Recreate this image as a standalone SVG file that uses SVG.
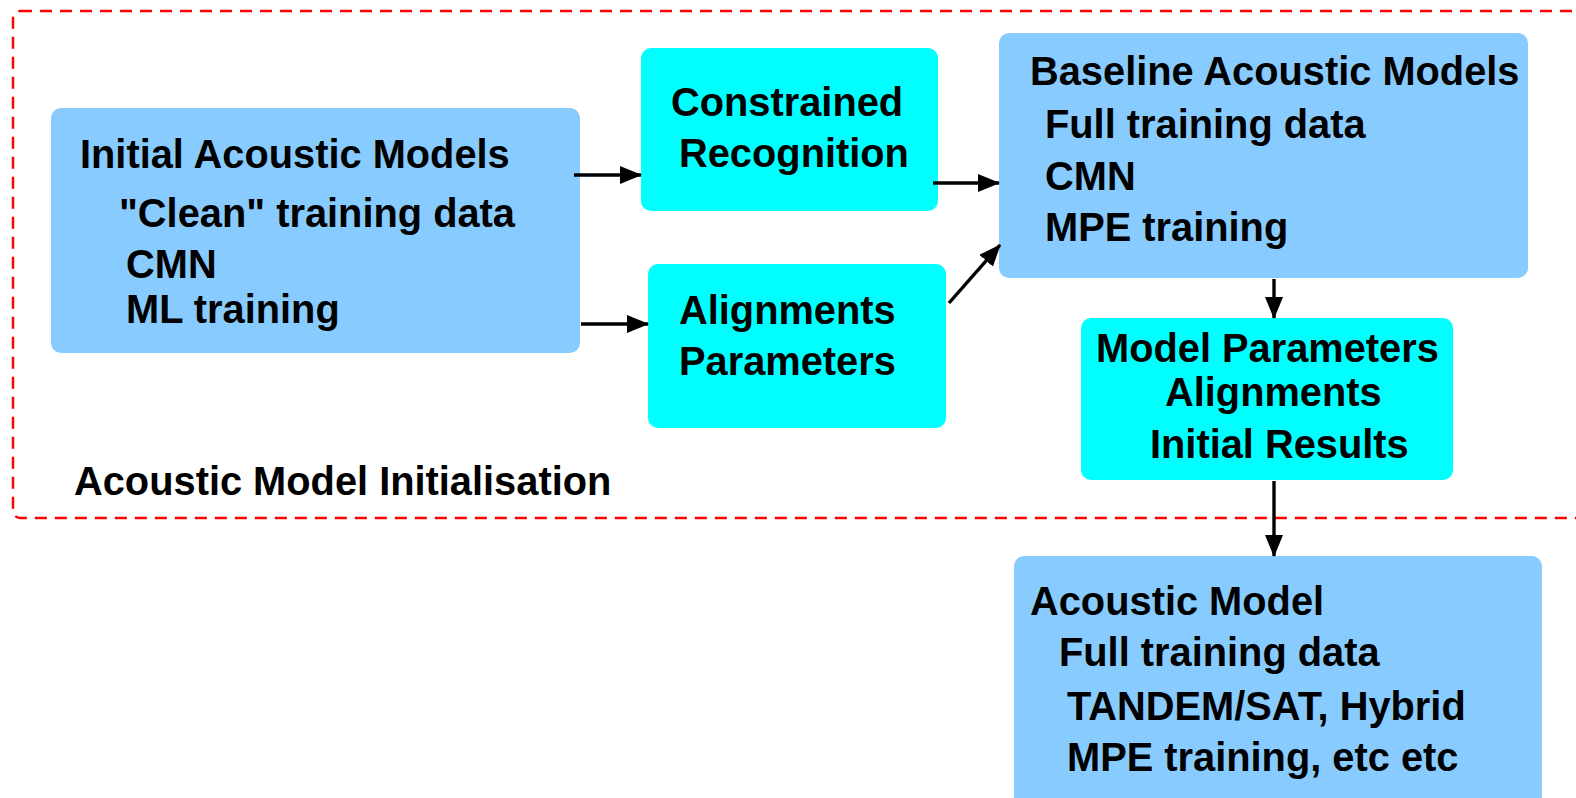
<svg xmlns="http://www.w3.org/2000/svg" width="1576" height="798" viewBox="0 0 1576 798">
<defs>
<style>
.lb{fill:#88CCFF;}
.cy{fill:#00FFFF;}
text{font-family:"Liberation Sans",Arial,sans-serif;font-weight:bold;font-size:39.8px;fill:#000;}
.c{stroke:#000;stroke-width:3.4;fill:none;marker-end:url(#ah);}
</style>
<marker id="ah" viewBox="0 0 22 18" refX="21" refY="9" markerWidth="22" markerHeight="18" markerUnits="userSpaceOnUse" orient="auto">
<path d="M0,0 L22,9 L0,18 z" fill="#000"/>
</marker>
</defs>
<rect width="1576" height="798" fill="#fff"/>
<g id="border">
<rect x="13" y="11" width="1640" height="507" rx="7" fill="none" stroke="#FF0000" stroke-width="2.5" stroke-dasharray="12,8"/>
<text x="74" y="495">Acoustic Model Initialisation</text>
</g>
<g id="initial">
<rect class="lb" x="51" y="108" width="529" height="245" rx="10"/>
<text x="80" y="168">Initial Acoustic Models</text>
<text x="119" y="227">"Clean" training data</text>
<text x="126" y="278">CMN</text>
<text x="126" y="323">ML training</text>
</g>
<g id="constrained">
<rect class="cy" x="641" y="48" width="297" height="163" rx="10"/>
<text x="671" y="116">Constrained</text>
<text x="679" y="167">Recognition</text>
</g>
<g id="alignments">
<rect class="cy" x="648" y="264" width="298" height="164" rx="10"/>
<text x="679" y="324">Alignments</text>
<text x="679" y="375">Parameters</text>
</g>
<g id="baseline">
<rect class="lb" x="999" y="33" width="529" height="245" rx="10"/>
<text x="1030" y="85">Baseline Acoustic Models</text>
<text x="1045" y="138">Full training data</text>
<text x="1045" y="190">CMN</text>
<text x="1045" y="241">MPE training</text>
</g>
<g id="modelparams">
<rect class="cy" x="1081" y="318" width="372" height="162" rx="10"/>
<text x="1096" y="362">Model Parameters</text>
<text x="1165" y="406">Alignments</text>
<text x="1150" y="458">Initial Results</text>
</g>
<g id="acoustic">
<rect class="lb" x="1014" y="556" width="528" height="260" rx="10"/>
<text x="1030" y="615">Acoustic Model</text>
<text x="1059" y="666">Full training data</text>
<text x="1067" y="720">TANDEM/SAT, Hybrid</text>
<text x="1067" y="771">MPE training, etc etc</text>
</g>
<g id="connectors">
<line class="c" x1="574" y1="175" x2="641" y2="175"/>
<line class="c" x1="581" y1="324" x2="648" y2="324"/>
<line class="c" x1="933" y1="183" x2="999" y2="183"/>
<line class="c" x1="949" y1="303" x2="1000" y2="245"/>
<line class="c" x1="1274" y1="279" x2="1274" y2="318"/>
<line class="c" x1="1274" y1="481" x2="1274" y2="556"/>
</g>
</svg>
